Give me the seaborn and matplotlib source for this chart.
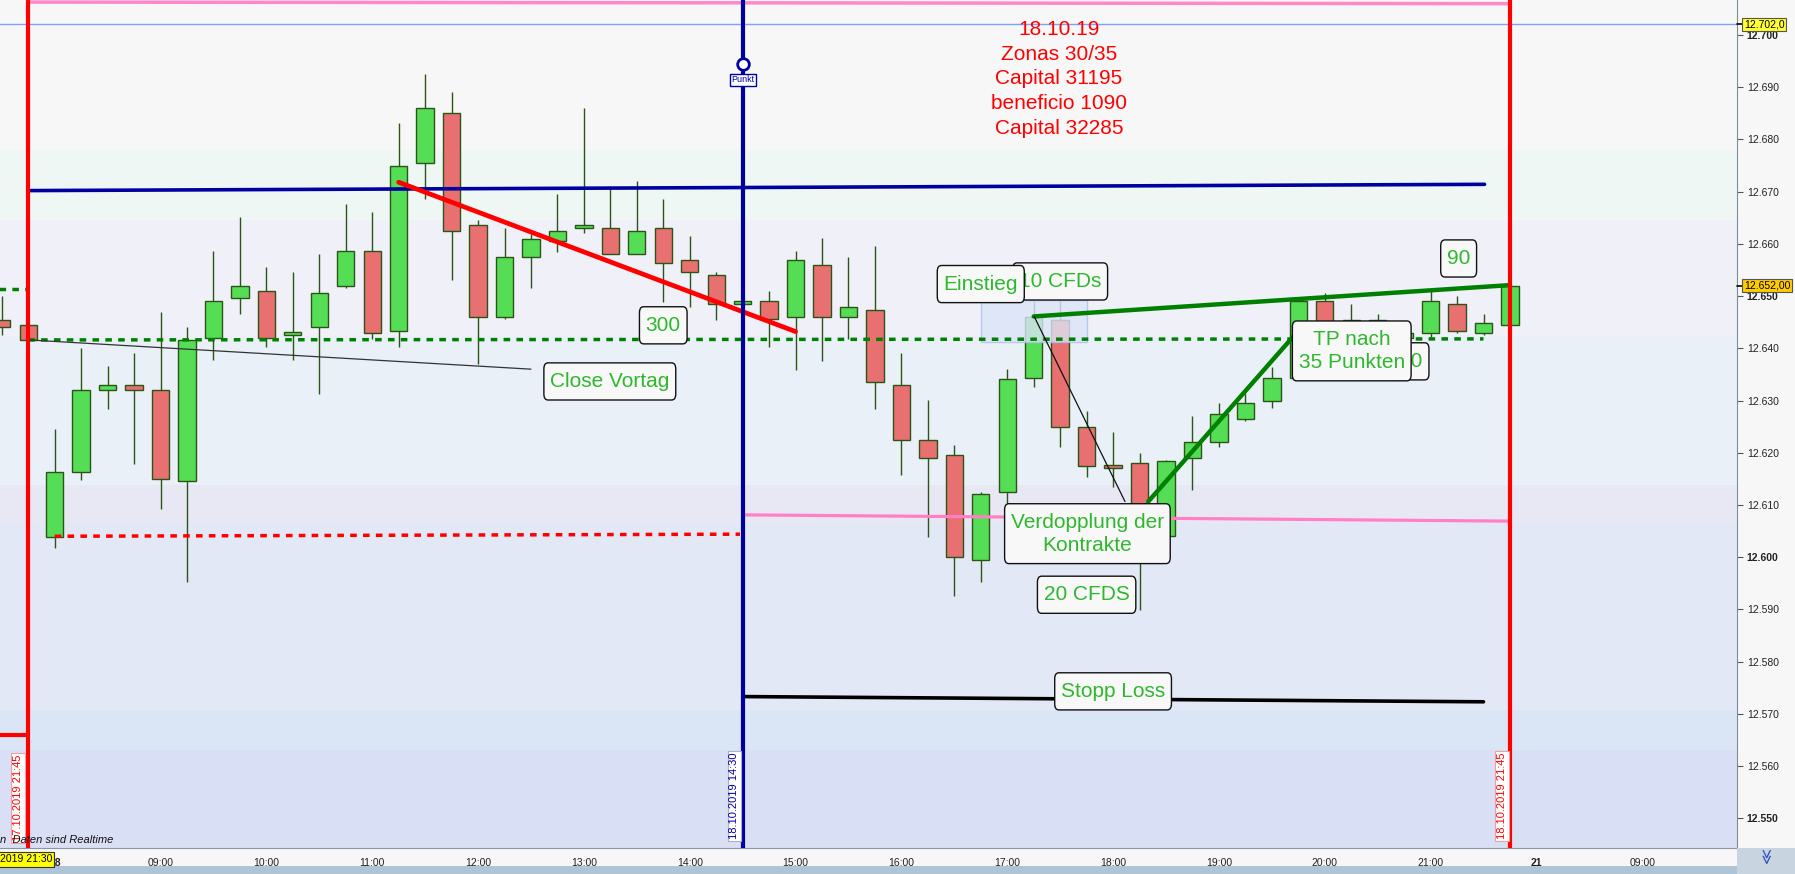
import numpy as np
import pandas as pd
import seaborn as sns
import matplotlib.pyplot as plt
from matplotlib.patches import Rectangle

# 15-min bars: two last bars of 17.10 then the whole 18.10 session
bar_times = ['17.10 21:30', '17.10 21:45'] + \
    [t.strftime('18.10 %H:%M') for t in pd.date_range('2019-10-18 08:00', '2019-10-18 21:45', freq='15min')]

opens = [12645.5, 12644.4,
         12603.9, 12616.4, 12632.0, 12632.9, 12632.0, 12614.5, 12641.9, 12649.6,
         12650.9, 12642.5, 12644.0, 12652.0, 12658.6, 12643.4, 12675.4, 12685.0,
         12663.6, 12646.0, 12657.4, 12660.5, 12663.0, 12663.0, 12658.0, 12663.0,
         12657.0, 12654.0, 12648.4, 12649.0, 12646.0, 12656.0, 12646.0, 12647.4,
         12632.9, 12622.4, 12619.5, 12599.4, 12612.5, 12634.4, 12645.5, 12624.9,
         12617.4, 12618.0, 12604.0, 12618.9, 12622.0, 12626.4, 12630.0, 12634.4,
         12649.1, 12644.0, 12645.5, 12642.0, 12643.0, 12648.4, 12643.0, 12644.4]
highs = [12650.0, 12644.6,
         12624.5, 12640.1, 12636.6, 12639.1, 12646.9, 12644.1, 12658.6, 12665.2,
         12655.6, 12654.6, 12658.1, 12667.6, 12666.1, 12683.2, 12692.6, 12689.1,
         12664.5, 12663.0, 12661.8, 12669.6, 12686.0, 12671.1, 12672.0, 12668.6,
         12661.5, 12654.6, 12649.2, 12651.0, 12658.6, 12661.1, 12657.5, 12659.6,
         12639.1, 12630.1, 12621.5, 12612.5, 12636.0, 12649.0, 12649.0, 12628.0,
         12624.0, 12619.9, 12618.6, 12627.0, 12629.5, 12631.5, 12636.5, 12649.5,
         12650.5, 12648.5, 12646.5, 12644.0, 12651.4, 12650.0, 12646.6, 12652.0]
lows = [12642.5, 12641.4,
        12601.8, 12614.7, 12628.4, 12617.9, 12609.3, 12595.3, 12637.8, 12646.5,
        12640.3, 12637.8, 12631.3, 12651.5, 12641.8, 12640.3, 12668.5, 12653.0,
        12636.9, 12645.6, 12651.5, 12658.5, 12662.0, 12658.0, 12658.0, 12648.9,
        12648.0, 12645.5, 12648.2, 12640.3, 12635.9, 12637.5, 12641.8, 12628.4,
        12615.8, 12603.9, 12592.5, 12595.3, 12610.0, 12632.5, 12621.0, 12615.4,
        12613.4, 12589.9, 12603.5, 12612.9, 12621.0, 12626.0, 12628.5, 12634.0,
        12642.5, 12642.0, 12641.0, 12641.5, 12641.7, 12643.0, 12642.5, 12644.4]
closes = [12644.0, 12641.5,
          12616.4, 12632.0, 12632.9, 12632.0, 12614.9, 12641.5, 12649.0, 12652.0,
          12641.9, 12643.0, 12650.5, 12658.6, 12643.0, 12675.0, 12686.0, 12662.4,
          12646.0, 12657.4, 12661.0, 12662.4, 12663.6, 12658.0, 12662.4, 12656.4,
          12654.6, 12648.4, 12649.0, 12645.6, 12657.0, 12646.0, 12648.0, 12633.5,
          12622.4, 12618.9, 12600.0, 12612.0, 12634.1, 12645.9, 12624.9, 12617.4,
          12617.0, 12605.5, 12618.4, 12622.0, 12627.5, 12629.5, 12634.4, 12649.1,
          12644.0, 12645.5, 12643.0, 12643.0, 12649.0, 12643.3, 12644.9, 12652.0]

xtick_labels = ['18', '09:00', '10:00', '11:00', '12:00', '13:00', '14:00', '15:00',
                '16:00', '17:00', '18:00', '19:00', '20:00', '21:00', '21', '09:00']
info_lines = ['18.10.19', 'Zonas 30/35', 'Capital 31195', 'beneficio 1090', 'Capital 32285']

df = pd.DataFrame({'time': bar_times, 'open': opens, 'high': highs, 'low': lows, 'close': closes})
df['x'] = np.arange(len(df)) - 2
df['up'] = df['close'] >= df['open']

sns.set_style('white')
plt.rcParams['font.family'] = ['Liberation Sans', 'DejaVu Sans']

W, H = 1795, 874
fig = plt.figure(figsize=(W / 100, H / 100), dpi=100, facecolor='#F7F7F7')
ax = fig.add_axes([0, 26 / H, 1737 / W, 848 / H])
ax.set_xlim(-2.067, 63.58)
ax.set_ylim(12544.3, 12706.7)

# background bands
bands = [(12678.0, 12720, '#F7F7F7'), (12664.6, 12678.0, '#EFF7F5'), (12642.4, 12664.6, '#EFF0F8'),
         (12613.8, 12642.4, '#EAF0F7'), (12606.55, 12613.8, '#E8E8F5'), (12570.75, 12606.55, '#E2E8F5'),
         (12563.1, 12570.75, '#DAE6F5'), (12500, 12563.1, '#D9DFF5')]
for lo, hi, c in bands:
    ax.axhspan(lo, hi, color=c, zorder=0, lw=0)

# candles
edge = '#2B5516'
ax.vlines(df['x'], df['low'], df['high'], color=edge, lw=1.0, zorder=2)
body_lo = df[['open', 'close']].min(axis=1)
body_h = (df['close'] - df['open']).abs().clip(lower=0.6)
ax.bar(df['x'], body_h, bottom=body_lo, width=0.655,
       color=np.where(df['up'], '#55DD55', '#E87070'), edgecolor=edge, lw=1.0, zorder=2.5)

# drawing objects
ax.axhline(12702.07, color='#7FA0FF', lw=1, zorder=3)
ax.plot([-1, 55], [12706.3, 12706.0], color='#FF88C8', lw=2.5, zorder=3)
ax.plot([-1, 54.04], [12670.2, 12671.4], color='#0000A0', lw=2.6, zorder=4)
ax.plot([-2.1, -1], [12651.4, 12651.4], color='#008000', lw=2.5, ls=(0, (1.9, 1.8)), zorder=4)
ax.plot([-1, 54], [12641.6, 12641.8], color='#008000', lw=2.5, ls=(0, (1.9, 1.8)), zorder=4)
ax.plot([0, 25.9], [12604.0, 12604.4], color='#FF0000', lw=2.5, ls=(0, (1.9, 1.8)), zorder=4)
ax.plot([26, 55], [12608.1, 12606.9], color='#FF80C4', lw=2.3, zorder=4)
ax.plot([26, 54], [12573.3, 12572.3], color='black', lw=2.6, zorder=4)
ax.plot([-2.1, -1], [12566.0, 12566.0], color='#FF0000', lw=3, zorder=4)
ax.plot([13.0, 28.0], [12671.8, 12643.2], color='#FF0000', lw=3.4, zorder=4)
ax.plot([37.0, 55.0], [12646.1, 12652.1], color='#008000', lw=3.2, zorder=4)
ax.plot([41.33, 46.8], [12610.65, 12642.2], color='#008000', lw=3.2, zorder=4)
ax.plot([-0.98, 18.0], [12641.6, 12636.0], color='#333333', lw=0.9, zorder=4)
ax.plot([37.02, 40.45], [12646.07, 12610.65], color='#111111', lw=0.9, zorder=4)
ax.add_patch(Rectangle((35.0, 12641.2), 4.0, 8.0, fc='#DCE4F7', ec='#A8C0F0', lw=1, alpha=0.8, zorder=3.5))

for xv, col in [(-1, '#FF0000'), (55, '#FF0000'), (26, '#0000A0')]:
    ax.axvline(xv, color=col, lw=3.0, zorder=5)

sns.scatterplot(x=[26], y=[12694.5], s=70, color='white', edgecolor='#0000A0', linewidth=2, zorder=6, ax=ax)
ax.text(26, 12691.4, 'Punkt', ha='center', va='center', fontsize=6.5, color='#0000A0', zorder=6,
        bbox=dict(boxstyle='square,pad=0.15', fc='white', ec='#0000A0', lw=1))

ax.text(37.96, 12691.6, '\n'.join(info_lines), ha='center', va='center', color='#FF0000',
        fontsize=15, linespacing=1.38, zorder=6)

box = dict(boxstyle='round,pad=0.3,rounding_size=0.2', fc='#F8F8F8', ec='#111111', lw=1.0,
           mutation_aspect=1.45)
labels = [(20.98, 12633.65, 'Close Vortag'), (23.0, 12644.4, '300'),
          (38.0, 12652.8, '10 CFDs'), (35.0, 12652.3, 'Einstieg'),
          (39.03, 12604.5, 'Verdopplung der\nKontrakte'), (39.0, 12592.8, '20 CFDS'),
          (40.0, 12574.3, 'Stopp Loss'), (51.26, 12637.5, '60'),
          (49.02, 12639.5, 'TP nach\n35 Punkten'), (53.06, 12657.2, '90')]
for k, (xv, yv, t) in enumerate(labels):
    ax.text(xv, yv, t, ha='center', va='center', color='#2EB82E', fontsize=15,
            linespacing=1.25, bbox=box, zorder=7 + k * 0.01)

# vertical date labels
vbox = dict(boxstyle='square,pad=0.15', fc='white', ec='#B0B0C0', lw=0.8)
ax.text(25.68, 12562.6, '18.10.2019 14:30', rotation=90, ha='center', va='top', fontsize=8,
        color='#0000A0', bbox=vbox, zorder=6)
ax.text(54.7, 12562.6, '18.10.2019 21:45', rotation=90, ha='center', va='top', fontsize=8,
        color='#FF0000', bbox=dict(vbox, ec='#F0A0A0'), zorder=6)
ax.text(-1.39, 12562.2, '17.10.2019 21:45', rotation=90, ha='center', va='top', fontsize=8,
        color='#FF0000', bbox=dict(vbox, ec='#F0A0A0'), zorder=6, clip_on=True)

# axes
for s in ['top', 'left']:
    ax.spines[s].set_visible(False)
ax.spines['right'].set_color('#7F8C99')
ax.spines['bottom'].set_color('#8A96A3')
ax.yaxis.tick_right()
yt = np.arange(12550, 12701, 10)
ax.set_yticks(yt)
ax.set_yticklabels([f'{v / 1000:.3f}' for v in yt])
for v, lab in zip(yt, ax.get_yticklabels()):
    if v % 50 == 0:
        lab.set_fontweight('bold')
ax.set_xticks(np.arange(0, 61, 4))
ax.set_xticklabels(xtick_labels)
for lab in ax.get_xticklabels():
    if lab.get_text() in ('18', '21'):
        lab.set_fontweight('bold')
        lab.set_fontsize(9)
ax.tick_params(axis='both', direction='out', length=4, width=0.8, color='#555555',
               labelsize=7.5, labelcolor='#222222', pad=3)
ax.set_xlabel('')
ax.set_ylabel('')

ytr = ax.get_yaxis_transform()
for yv, t, c in [(12702.07, '12.702,0', '#FFFF33'), (12652.0, '12.652,00', '#FFCC00')]:
    ax.plot([1.0, 1.004], [yv, yv], color='black', lw=1.2, transform=ytr, clip_on=False, zorder=10)
    ax.text(1.004, yv, t, transform=ytr, ha='left', va='center', fontsize=7.5, color='black',
            clip_on=False, zorder=11, bbox=dict(boxstyle='square,pad=0.15', fc=c, ec='#555555', lw=0.8))

# status bits
ax.text(0.0, 0.004, 'n  Daten sind Realtime', transform=ax.transAxes, fontsize=8, style='italic',
        color='#111111', ha='left', va='bottom', zorder=8)
fig.text(52 / W, 1 - 859.5 / H, '17.10.2019 21:30', ha='right', va='center', fontsize=7.5,
         color='black', bbox=dict(boxstyle='square,pad=0.2', fc='#FFFF00', ec='#333333', lw=0.8))
fig.patches.append(Rectangle((0, 0), 1, 8 / H, transform=fig.transFigure, fc='#B0C4D8', ec='none'))
fig.patches.append(Rectangle((1737 / W, 0), 58 / W, 26 / H, transform=fig.transFigure, fc='#C8D4E0', ec='none'))
fig.text(1765 / W, 1 - 857 / H, '≫', rotation=-90, ha='center', va='center', fontsize=11,
         color='#3050C0', family='DejaVu Sans')

fig.savefig('out.png', dpi=100, facecolor=fig.get_facecolor())
